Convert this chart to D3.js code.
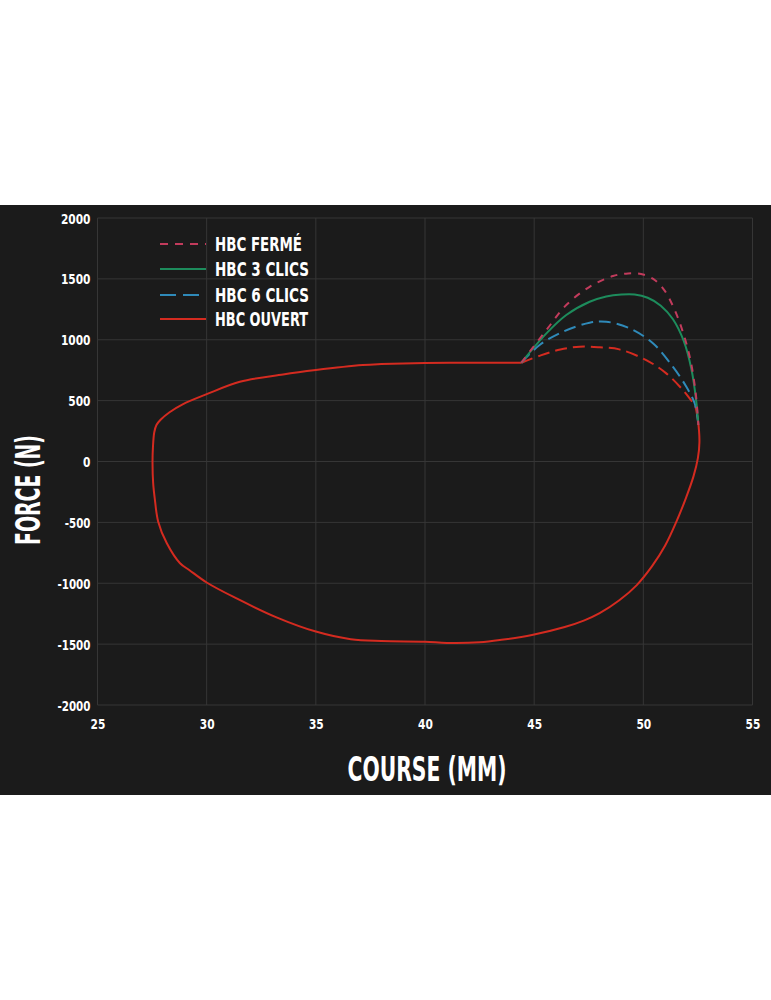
<!DOCTYPE html>
<html>
<head>
<meta charset="utf-8">
<script src="https://cdn.jsdelivr.net/npm/d3@7"></script>
<style>
  html, body { margin: 0; padding: 0; background: #ffffff; }
  svg { display: block; }
  .lbl { font-family: "DejaVu Sans Condensed", "DejaVu Sans", sans-serif; font-stretch: condensed; font-weight: bold; fill: #ffffff; }
</style>
</head>
<body>
<svg id="chart" width="771" height="1000"></svg>
<script>
// ---- data ----
const xTicks = [25, 30, 35, 40, 45, 50, 55];
const yTicks = [-2000, -1500, -1000, -500, 0, 500, 1000, 1500, 2000];
const seriesNames = ["HBC FERMÉ", "HBC 3 CLICS", "HBC 6 CLICS", "HBC OUVERT"];
const xTitle = "COURSE (MM)";
const yTitle = "FORCE (N)";

// HBC OUVERT full loop (course mm, force N)
const ouvertCourse = [44.41, 42.0, 40.0, 38.0, 37.15, 35.0, 33.5, 31.52, 30.0, 28.9, 28.3, 27.9, 27.7, 27.6, 27.54, 27.52, 27.55, 27.62, 27.78, 28.17, 28.78, 29.2, 30.0, 31.37, 33.2, 35.0, 36.6, 38.0, 40.0, 41.0, 42.5, 43.5, 44.9, 46.4, 47.3, 48.0, 48.9, 49.7, 50.4, 51.0, 51.5, 51.95, 52.3, 52.5, 52.57, 52.5, 52.38];
const ouvertForce  = [811, 811, 810, 800, 792, 751, 715, 655, 553, 470, 405, 345, 300, 240, 120, -12, -180, -300, -494, -670, -836, -891, -994, -1125, -1280, -1397, -1460, -1475, -1480, -1490, -1485, -1465, -1425, -1360, -1305, -1246, -1140, -1015, -860, -690, -500, -300, -120, 30, 160, 341, 460];
// HBC OUVERT compression arc (dashed)
const ouvertArcCourse = [44.41, 45.3, 46.2, 47.08, 48.0, 48.9, 50.13, 51.05, 51.81, 52.2, 52.38];
const ouvertArcForce  = [811, 872, 920, 943, 938, 921, 833, 724, 587, 500, 460];
// HBC 6 CLICS arc
const clics6Course = [44.41, 45.25, 46.32, 47.54, 48.3, 49.37, 50.44, 51.35, 51.97, 52.35, 52.5];
const clics6Force  = [811, 957, 1066, 1140, 1148, 1094, 971, 779, 614, 478, 330];
// HBC 3 CLICS arc
const clics3Course = [44.41, 45.56, 46.47, 47.54, 48.3, 49.0, 49.6, 50.2, 50.8, 51.35, 51.85, 52.2, 52.42, 52.52];
const clics3Force  = [811, 1052, 1203, 1312, 1356, 1372, 1372, 1345, 1280, 1170, 990, 760, 500, 300];
// HBC FERMÉ arc
const fermeCourse = [44.41, 45.56, 46.47, 47.54, 48.61, 49.3, 49.9, 50.45, 50.95, 51.4, 51.8, 52.15, 52.4, 52.52];
const fermeForce  = [811, 1080, 1285, 1435, 1523, 1545, 1540, 1500, 1410, 1260, 1070, 840, 560, 300];

// ---- drawing ----
const svg = d3.select("#chart");
const W = 771;
const bgTop = 205, bgBottom = 795;
const plot = { left: 97.5, right: 752.5, top: 218, bottom: 705 };

svg.append("rect").attr("x", 0).attr("y", bgTop).attr("width", W).attr("height", bgBottom - bgTop).attr("fill", "#1b1b1b");

const x = d3.scaleLinear().domain([25, 55]).range([plot.left, plot.right]);
const y = d3.scaleLinear().domain([-2000, 2000]).range([plot.bottom, plot.top]);

// grid
const grid = svg.append("g");
grid.selectAll("line.v").data(xTicks).enter().append("line")
  .attr("x1", d => x(d)).attr("x2", d => x(d)).attr("y1", plot.top).attr("y2", plot.bottom)
  .attr("stroke", "#363636").attr("stroke-width", 1);
grid.selectAll("line.h").data(yTicks).enter().append("line")
  .attr("y1", d => y(d)).attr("y2", d => y(d)).attr("x1", plot.left).attr("x2", plot.right)
  .attr("stroke", "#363636").attr("stroke-width", 1);

const labelWidth = d => String(Math.abs(d)).length * 7.4 + (d < 0 ? 3.5 : 0);

// axes
const yAxis = svg.append("g").attr("transform", `translate(${plot.left},0)`)
  .call(d3.axisLeft(y).tickValues(yTicks).tickSize(0).tickPadding(7).tickFormat(d => String(d)));
yAxis.select(".domain").remove();
yAxis.selectAll("text").attr("class", "lbl").style("font-size", "14px").attr("dy", "0.36em")
  .attr("textLength", d => labelWidth(d)).attr("lengthAdjust", "spacingAndGlyphs");

const xAxis = svg.append("g").attr("transform", `translate(0,${plot.bottom})`)
  .call(d3.axisBottom(x).tickValues(xTicks).tickSize(0).tickPadding(14).tickFormat(d => String(d)));
xAxis.select(".domain").remove();
xAxis.selectAll("text").attr("class", "lbl").style("font-size", "14px")
  .attr("textLength", d => labelWidth(d)).attr("lengthAdjust", "spacingAndGlyphs");

// titles
svg.append("text").attr("class", "lbl").attr("x", 427).attr("y", 781)
  .attr("text-anchor", "middle").style("font-size", "34px")
  .attr("textLength", 159).attr("lengthAdjust", "spacingAndGlyphs").text(xTitle);
svg.append("text").attr("class", "lbl").attr("transform", "translate(40,490) rotate(-90)")
  .attr("text-anchor", "middle").style("font-size", "34px")
  .attr("textLength", 110).attr("lengthAdjust", "spacingAndGlyphs").text(yTitle);

// lines
const line = d3.line().x(d => x(d[0])).y(d => y(d[1])).curve(d3.curveCatmullRom.alpha(0.5));
const zip = (a, b) => a.map((v, i) => [v, b[i]]);

const colRed = "#d42b20", colPink = "#c23b5c", colGreen = "#1d8c5c", colBlue = "#2f8ab9";

const plotG = svg.append("g");
plotG.append("path").attr("d", line(zip(ouvertCourse, ouvertForce)))
  .attr("fill", "none").attr("stroke", colRed).attr("stroke-width", 2);
plotG.append("path").attr("d", line(zip(ouvertArcCourse, ouvertArcForce)))
  .attr("fill", "none").attr("stroke", colRed).attr("stroke-width", 2).attr("stroke-dasharray", "12,6");
plotG.append("path").attr("d", line(zip(clics6Course, clics6Force)))
  .attr("fill", "none").attr("stroke", colBlue).attr("stroke-width", 2).attr("stroke-dasharray", "12,6");
plotG.append("path").attr("d", line(zip(clics3Course, clics3Force)))
  .attr("fill", "none").attr("stroke", colGreen).attr("stroke-width", 2);
plotG.append("path").attr("d", line(zip(fermeCourse, fermeForce)))
  .attr("fill", "none").attr("stroke", colPink).attr("stroke-width", 2).attr("stroke-dasharray", "7,7");

// legend
const legendStyles = [
  { color: colPink, dash: "8,7" },
  { color: colGreen, dash: null },
  { color: colBlue, dash: "16,7" },
  { color: colRed, dash: null }
];
const legendY = [244, 269, 295, 319];
const textWidths = [87, 94, 94, 93];
const lg = svg.append("g");
seriesNames.forEach((name, i) => {
  const l = lg.append("line").attr("x1", 160).attr("x2", 206).attr("y1", legendY[i]).attr("y2", legendY[i])
    .attr("stroke", legendStyles[i].color).attr("stroke-width", 2);
  if (legendStyles[i].dash) l.attr("stroke-dasharray", legendStyles[i].dash);
  lg.append("text").attr("class", "lbl").attr("x", 215).attr("y", legendY[i] + 7)
    .style("font-size", "19px").attr("textLength", textWidths[i]).attr("lengthAdjust", "spacingAndGlyphs").text(name);
});
</script>
</body>
</html>
